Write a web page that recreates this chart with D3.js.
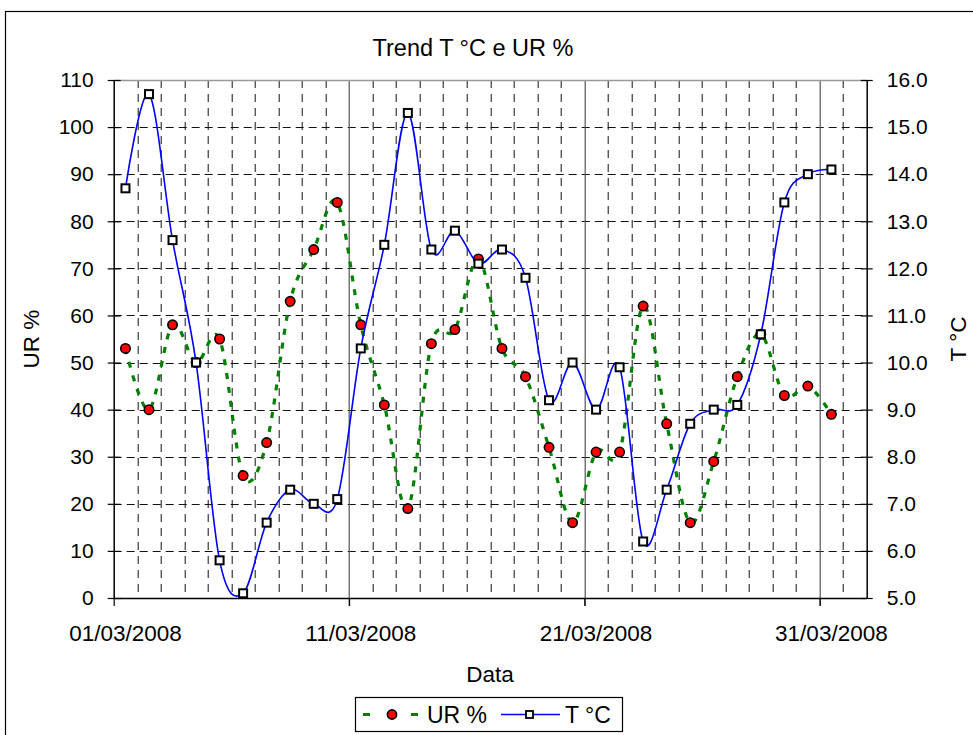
<!doctype html>
<html lang="it">
  <head>
    <meta charset="utf-8">
    <title>Trend T °C e UR %</title>
    <style>
      body { margin: 0; background: #fff; }
      text { font-family: "Liberation Sans", Arial, sans-serif; fill: #000; }
    </style>
  </head>
  <body>
    <script src="https://cdn.jsdelivr.net/npm/d3@7"></script>
    <script>
      var dates = ["2008-03-01","2008-03-02","2008-03-03","2008-03-04","2008-03-05","2008-03-06","2008-03-07","2008-03-08",
                   "2008-03-09","2008-03-10","2008-03-11","2008-03-12","2008-03-13","2008-03-14","2008-03-15","2008-03-16",
                   "2008-03-17","2008-03-18","2008-03-19","2008-03-20","2008-03-21","2008-03-22","2008-03-23","2008-03-24",
                   "2008-03-25","2008-03-26","2008-03-27","2008-03-28","2008-03-29","2008-03-30","2008-03-31"];
      var ur = [53, 40, 58, 50, 55, 26, 33, 63, 74, 84, 58, 41, 19, 54, 57, 72,
                53, 47, 32, 16, 31, 31, 62, 37, 16, 29, 47, 56, 43, 45, 39];
      var temp = [13.7, 15.7, 12.6, 10.0, 5.8, 5.1, 6.6, 7.3, 7.0, 7.1, 10.3, 12.5, 15.3, 12.4, 12.8, 12.1,
                  12.4, 11.8, 9.2, 10.0, 9.0, 9.9, 6.2, 7.3, 8.7, 9.0, 9.1, 10.6, 13.4, 14.0, 14.1];
      var urTicks = [0, 10, 20, 30, 40, 50, 60, 70, 80, 90, 100, 110];
      var tTicks = [5, 6, 7, 8, 9, 10, 11, 12, 13, 14, 15, 16];
      var majorDates = ["2008-03-01", "2008-03-11", "2008-03-21", "2008-03-31"];

      var W = 973, H = 735;
      var margin = {top: 80, right: 106.3, bottom: 137, left: 113.7};
      var width = W - margin.left - margin.right,
          height = H - margin.top - margin.bottom;

      var parse = d3.utcParse("%Y-%m-%d");
      var fmt = d3.utcFormat("%d/%m/%Y");
      var days = dates.map(parse);

      var svg = d3.select("body").append("svg")
        .attr("width", W)
        .attr("height", H);

      // chart area border
      svg.append("rect")
        .attr("x", 5.5).attr("y", 11.5)
        .attr("width", 990).attr("height", 760)
        .attr("fill", "none").attr("stroke", "#000").attr("stroke-width", 1.2);

      var chart = svg.append("g")
        .attr("transform", "translate(" + margin.left + "," + margin.top + ")");

      // date axis: one slot per day, the axis runs one slot past the last date
      var x = d3.scaleUtc()
        .domain([days[0], d3.utcDay.offset(days[days.length - 1], 2)])
        .range([0, width]);
      var mid = function(d){ return x(d3.utcHour.offset(d, 12)); };

      var y = d3.scaleLinear().domain([0, 110]).range([height, 0]);
      var y2 = d3.scaleLinear().domain([5, 16]).range([height, 0]);

      // horizontal gridlines
      chart.selectAll(".hgrid")
        .data(urTicks.slice(1, -1))
        .enter().append("line")
        .attr("x1", 0).attr("x2", width)
        .attr("y1", function(d){ return Math.round(y(d)) + 0.5; })
        .attr("y2", function(d){ return Math.round(y(d)) + 0.5; })
        .attr("stroke", "#111").attr("stroke-width", 1)
        .attr("stroke-dasharray", "8,5");

      // minor vertical gridlines (dashed), major (solid)
      var majors = majorDates.map(function(s){ return +parse(s); });
      var minorDays = days.concat([d3.utcDay.offset(days[days.length - 1], 1)])
        .filter(function(d){ return majors.indexOf(+d) < 0; });
      chart.selectAll(".vgrid")
        .data(minorDays)
        .enter().append("line")
        .attr("x1", function(d){ return Math.round(x(d)) + 0.5; })
        .attr("x2", function(d){ return Math.round(x(d)) + 0.5; })
        .attr("y1", 0).attr("y2", height)
        .attr("stroke", "#111").attr("stroke-width", 1)
        .attr("stroke-dasharray", "8,6");

      chart.selectAll(".vmajor")
        .data(majorDates.slice(1).map(parse))
        .enter().append("line")
        .attr("x1", function(d){ return Math.round(x(d)) + 0.5; })
        .attr("x2", function(d){ return Math.round(x(d)) + 0.5; })
        .attr("y1", 0).attr("y2", height + 8)
        .attr("stroke", "#555").attr("stroke-width", 1.2);

      // plot area top border
      chart.append("line")
        .attr("x1", 0).attr("x2", width).attr("y1", 0.5).attr("y2", 0.5)
        .attr("stroke", "#999").attr("stroke-width", 1.5);

      // UR series
      var urLine = d3.line()
        .x(function(d, i){ return mid(days[i]); })
        .y(function(d){ return y(d); })
        .curve(d3.curveCardinal);

      chart.append("path")
        .datum(ur)
        .attr("d", urLine)
        .attr("fill", "none")
        .attr("stroke", "#008000")
        .attr("stroke-width", 3.2)
        .attr("stroke-dasharray", "6,8");

      chart.selectAll(".urdot")
        .data(ur)
        .enter().append("circle")
        .attr("cx", function(d, i){ return mid(days[i]); })
        .attr("cy", function(d){ return y(d); })
        .attr("r", 4.7)
        .attr("fill", "#ff0000").attr("stroke", "#000").attr("stroke-width", 1.6);

      // T series
      var tLine = d3.line()
        .x(function(d, i){ return mid(days[i]); })
        .y(function(d){ return y2(d); })
        .curve(d3.curveCardinal);

      chart.append("path")
        .datum(temp)
        .attr("d", tLine)
        .attr("fill", "none")
        .attr("stroke", "#0000ff")
        .attr("stroke-width", 1.6);

      chart.selectAll(".tsq")
        .data(temp)
        .enter().append("rect")
        .attr("x", function(d, i){ return mid(days[i]) - 4; })
        .attr("y", function(d){ return y2(d) - 4; })
        .attr("width", 8).attr("height", 8)
        .attr("fill", "#fff").attr("stroke", "#000").attr("stroke-width", 2);

      // axes
      var leftAxis = chart.append("g")
        .call(d3.axisLeft(y).tickValues(urTicks).tickSize(6).tickPadding(14).tickFormat(d3.format("d")));
      leftAxis.selectAll(".tick line").attr("x2", 7).attr("x1", -6);

      var rightAxis = chart.append("g")
        .attr("transform", "translate(" + width + ",0)")
        .call(d3.axisRight(y2).tickValues(tTicks).tickSize(6).tickPadding(14).tickFormat(d3.format(".1f")));
      rightAxis.selectAll(".tick line").attr("x1", -6);

      var bottomAxis = chart.append("g")
        .attr("transform", "translate(0," + height + ")")
        .call(d3.axisBottom(x).tickValues(majorDates.map(parse)).tickSize(8).tickFormat(""));

      [leftAxis, rightAxis, bottomAxis].forEach(function(a){
        a.select(".domain").attr("stroke", "#000").attr("stroke-width", 1.5);
        a.selectAll(".tick line").attr("stroke", "#000").attr("stroke-width", 1.2);
        a.selectAll("text").style("font-size", "21px").style("font-family", "Liberation Sans, Arial, sans-serif").attr("fill", "#000");
      });
      leftAxis.select(".domain").attr("d", "M0.5,0V" + height);
      rightAxis.select(".domain").attr("d", "M0.5,0V" + height);
      bottomAxis.select(".domain").attr("d", "M0," + 0.5 + "H" + width);

      // date labels sit in the middle of their day slot
      chart.selectAll(".xlab")
        .data(majorDates.map(parse))
        .enter().append("text")
        .attr("x", function(d){ return mid(d); })
        .attr("y", height + 43)
        .attr("text-anchor", "middle")
        .style("font-size", "22.5px")
        .text(function(d){ return fmt(d); });

      // titles
      svg.append("text")
        .attr("x", 473).attr("y", 56)
        .attr("text-anchor", "middle")
        .style("font-size", "23.5px")
        .text("Trend T °C e UR %");

      svg.append("text")
        .attr("x", 490).attr("y", 682)
        .attr("text-anchor", "middle")
        .style("font-size", "22.5px")
        .text("Data");

      svg.append("text")
        .attr("transform", "translate(39," + (margin.top + height / 2) + ") rotate(-90)")
        .attr("text-anchor", "middle")
        .style("font-size", "22.5px")
        .text("UR %");

      svg.append("text")
        .attr("transform", "translate(966," + (margin.top + height / 2) + ") rotate(-90)")
        .attr("text-anchor", "middle")
        .style("font-size", "22.5px")
        .text("T °C");

      // legend
      var lg = svg.append("g").attr("transform", "translate(355,697)");
      lg.append("rect")
        .attr("x", 0.5).attr("y", 0.5).attr("width", 267).attr("height", 34)
        .attr("fill", "#fff").attr("stroke", "#000").attr("stroke-width", 1.2);
      lg.append("line")
        .attr("x1", 8).attr("x2", 66).attr("y1", 17.5).attr("y2", 17.5)
        .attr("stroke", "#008000").attr("stroke-width", 3.2).attr("stroke-dasharray", "7,41");
      lg.append("circle")
        .attr("cx", 37).attr("cy", 17.5).attr("r", 4.6)
        .attr("fill", "#ff0000").attr("stroke", "#000").attr("stroke-width", 1.6);
      lg.append("text")
        .attr("x", 72).attr("y", 26)
        .style("font-size", "23px")
        .text("UR %");
      lg.append("line")
        .attr("x1", 146).attr("x2", 205).attr("y1", 17.5).attr("y2", 17.5)
        .attr("stroke", "#0000ff").attr("stroke-width", 1.6);
      lg.append("rect")
        .attr("x", 171).attr("y", 14).attr("width", 7).attr("height", 7)
        .attr("fill", "#fff").attr("stroke", "#000").attr("stroke-width", 1.8);
      lg.append("text")
        .attr("x", 210).attr("y", 26)
        .style("font-size", "23px")
        .text("T °C");
    </script>
  </body>
</html>
